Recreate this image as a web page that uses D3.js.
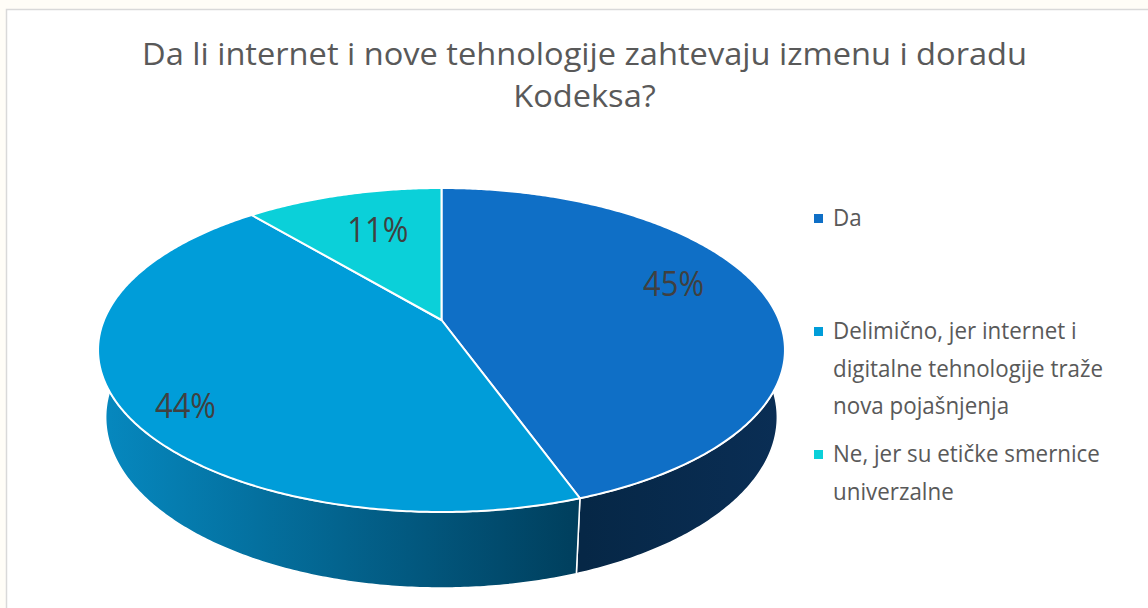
<!DOCTYPE html>
<html><head><meta charset="utf-8">
<script src="https://cdn.jsdelivr.net/npm/d3@7"></script>
<style>html,body{margin:0;padding:0;background:#fffdf7;}svg{display:block}</style>
</head><body>
<svg id="c" width="1148" height="608"></svg>
<script>
// ---- data ----
const titleLines = ["Da li internet i nove tehnologije zahtevaju izmenu i doradu", "Kodeksa?"];
const categories = ["Da", "Delimično, jer internet i digitalne tehnologije traže nova pojašnjenja", "Ne, jer su etičke smernice univerzalne"];
const legendLines = [["Da"], ["Delimično, jer internet i", "digitalne tehnologije traže", "nova pojašnjenja"], ["Ne, jer su etičke smernice", "univerzalne"]];
const values = [44.5, 44.4, 11.1];

// ---- styles / layout ----
const topColors = ["#0F6FC6", "#009DD9", "#0BD0D9"];
const cam = {cx: 441.5, cy: 320, f: 1615, d: 4.785, s: 0.4635, h: 0.2268};
cam.c = Math.sqrt(1 - cam.s * cam.s);
const labelAdjust = [{da: -9, r: 0.76}, {da: -6, r: 0.85}, {da: 2, r: 0.685}];

const svg = d3.select("#c");
svg.append("rect").attr("x", 6.5).attr("y", 9.5).attr("width", 1170).attr("height", 640)
  .attr("fill", "#ffffff").attr("stroke", "#d9d9d9").attr("stroke-width", 1.5);

const defs = svg.append("defs");
function grad(id, x1, x2, c1, c2) {
  const g = defs.append("linearGradient").attr("id", id).attr("gradientUnits", "userSpaceOnUse")
    .attr("x1", x1).attr("x2", x2).attr("y1", 0).attr("y2", 0);
  g.append("stop").attr("offset", 0).attr("stop-color", c1);
  g.append("stop").attr("offset", 1).attr("stop-color", c2);
}
grad("w0", 583, 785, "#062746", "#0a2e55");
grad("w1", 97, 583, "#0689c0", "#003e5c");
grad("w2", 97, 785, "#08a9b0", "#066b70");

// perspective projection of a point on the disc (a: radians clockwise from far side)
function proj(a, r, top) {
  const X = r * Math.sin(a), Z = -r * Math.cos(a), Y = top ? 0 : -cam.h;
  const depth = cam.d - Y * cam.s - Z * cam.c;
  return [cam.cx + cam.f * X / depth, cam.cy - cam.f * (Y * cam.c - Z * cam.s) / depth];
}
function sample(a0, a1, r, top) {
  const n = Math.max(2, Math.ceil(Math.abs(a1 - a0) / 0.01));
  return d3.range(n + 1).map(i => proj(a0 + (a1 - a0) * i / n, r, top));
}

const arcs = d3.pie().sort(null).value(d => d)(values);
const line = d3.line();

// outer walls (front half only)
const gW = svg.append("g");
arcs.forEach((p, i) => {
  const a0 = Math.max(p.startAngle, Math.PI / 2), a1 = Math.min(p.endAngle, 3 * Math.PI / 2);
  if (a1 <= a0) return;
  const pts = sample(a0, a1, 1, true).concat(sample(a1, a0, 1, false));
  gW.append("path").attr("d", line(pts) + "Z").attr("fill", `url(#w${i})`)
    .attr("stroke", "#ffffff").attr("stroke-width", 1.5).attr("stroke-linejoin", "round");
});

// top faces
const gT = svg.append("g");
arcs.forEach((p, i) => {
  const pts = [proj(0, 0, true)].concat(sample(p.startAngle, p.endAngle, 1, true));
  gT.append("path").attr("d", line(pts) + "Z").attr("fill", topColors[i])
    .attr("stroke", "#ffffff").attr("stroke-width", 2).attr("stroke-linejoin", "round");
});

function fit(sel, target, ref) {
  const nodes = sel.nodes();
  const refLen = ref.node().getComputedTextLength();
  const k = target / refLen;
  nodes.forEach(n => {
    const L = n.getComputedTextLength();
    d3.select(n).attr("textLength", L * k).attr("lengthAdjust", "spacingAndGlyphs");
  });
}

// labels
const gL = svg.append("g");
const labs = gL.selectAll("text").data(arcs).join("text")
  .attr("transform", (p, i) => {
    const m = (p.startAngle + p.endAngle) / 2 + labelAdjust[i].da * Math.PI / 180;
    const q = proj(m, labelAdjust[i].r, true);
    return `translate(${q[0]},${q[1]})`;
  })
  .attr("text-anchor", "middle").attr("dy", "0.357em")
  .attr("font-family", "'Open Sans', sans-serif").attr("font-size", 35).attr("fill", "#404040")
  .text(p => Math.round(p.data) + "%");
fit(labs, 61, labs.filter((d, i) => i === 0));

// title
const tt = svg.append("g").selectAll("text").data(titleLines).join("text")
  .attr("x", 584.5).attr("y", (d, i) => 65 + i * 42)
  .attr("text-anchor", "middle").attr("font-family", "'Open Sans', sans-serif")
  .attr("font-size", 31).attr("fill", "#595959").text(d => d);
fit(tt, 885, tt.filter((d, i) => i === 0));

// legend
const legBase = [226, 339, 462], legLH = 37.5;
const gLeg = svg.append("g");
categories.forEach((c, i) => {
  gLeg.append("rect").attr("x", 814).attr("y", legBase[i] - 12).attr("width", 9).attr("height", 9)
    .attr("fill", topColors[i]);
});
const legTexts = gLeg.selectAll("text.l").data(legendLines.flatMap((ls, i) => ls.map((t, j) => ({t, i, j}))))
  .join("text").attr("class", "l")
  .attr("x", 833).attr("y", d => legBase[d.i] + d.j * legLH)
  .attr("font-family", "'Open Sans', sans-serif").attr("font-size", 23).attr("fill", "#595959")
  .text(d => d.t);
fit(legTexts, 270, legTexts.filter(d => d.t === "digitalne tehnologije traže"));
</script>
</body></html>
